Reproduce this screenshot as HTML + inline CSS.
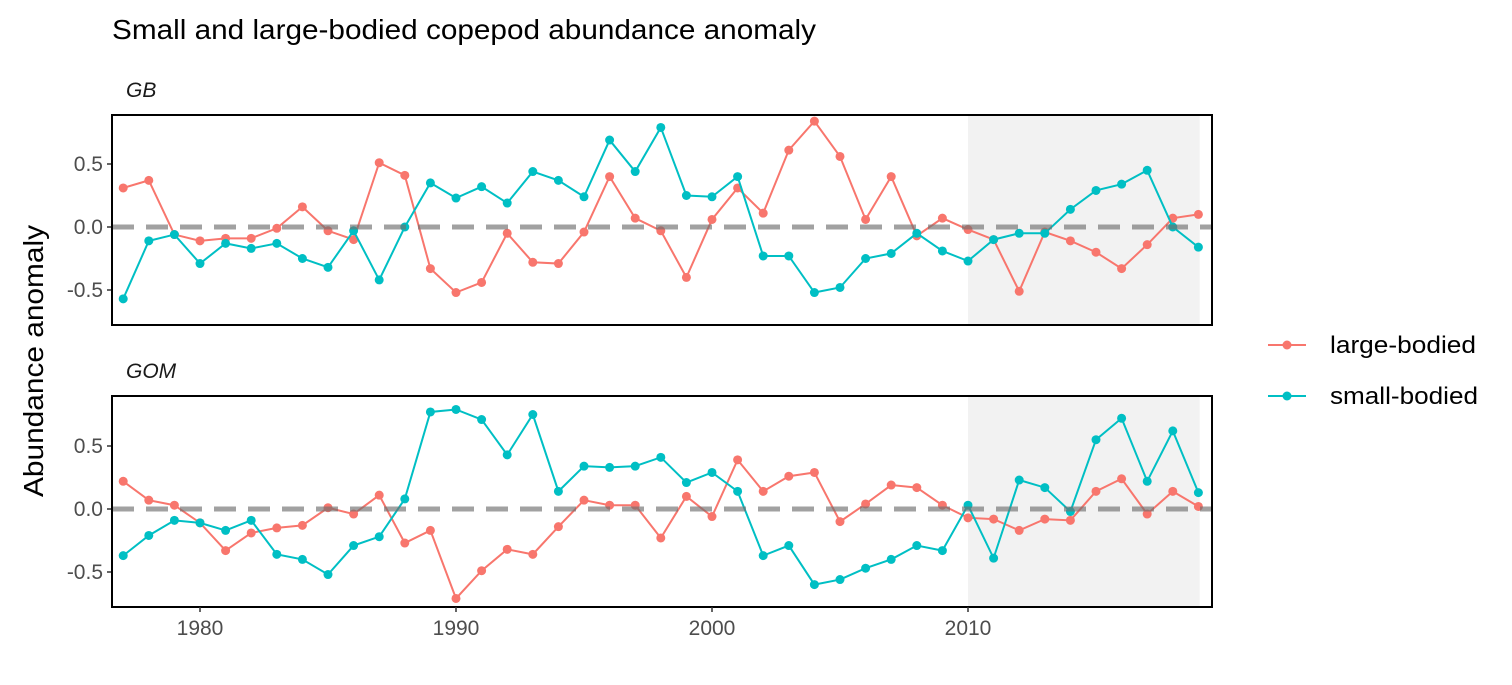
<!DOCTYPE html>
<html><head><meta charset="utf-8"><style>
body{margin:0;background:#fff;font-family:"Liberation Sans",Arial,sans-serif}
svg text{font-family:"Liberation Sans",Arial,sans-serif}
</style></head><body>
<svg id="chart" width="1512" height="680" xmlns="http://www.w3.org/2000/svg">
<text x="112" y="39" font-size="28" textLength="704" lengthAdjust="spacingAndGlyphs" fill="#000">Small and large-bodied copepod abundance anomaly</text>
<text transform="translate(43,361) rotate(-90)" text-anchor="middle" font-size="28" fill="#000" textLength="272" lengthAdjust="spacingAndGlyphs">Abundance anomaly</text>
<g>
<g><line x1="1268" y1="345" x2="1306" y2="345" stroke="#F8766D" stroke-width="2"/><circle cx="1287" cy="345" r="4.5" fill="#F8766D"/><text x="1330" y="353" font-size="24" textLength="146" lengthAdjust="spacingAndGlyphs" fill="#000">large-bodied</text></g>
<g><line x1="1268" y1="396" x2="1306" y2="396" stroke="#00BFC4" stroke-width="2"/><circle cx="1287" cy="396" r="4.5" fill="#00BFC4"/><text x="1330" y="404" font-size="24" textLength="148" lengthAdjust="spacingAndGlyphs" fill="#000">small-bodied</text></g>
</g>
<g id="panels"></g>
</svg>
<script>
const years=[];for(let y=1977;y<=2019;y++)years.push(y);
const gbLarge=[0.31,0.37,-0.06,-0.11,-0.09,-0.09,-0.01,0.16,-0.03,-0.10,0.51,0.41,-0.33,-0.52,-0.44,-0.05,-0.28,-0.29,-0.04,0.40,0.07,-0.03,-0.40,0.06,0.31,0.11,0.61,0.84,0.56,0.06,0.40,-0.07,0.07,-0.02,-0.10,-0.51,-0.04,-0.11,-0.20,-0.33,-0.14,0.07,0.10];
const gbSmall=[-0.57,-0.11,-0.06,-0.29,-0.13,-0.17,-0.13,-0.25,-0.32,-0.03,-0.42,0.0,0.35,0.23,0.32,0.19,0.44,0.37,0.24,0.69,0.44,0.79,0.25,0.24,0.40,-0.23,-0.23,-0.52,-0.48,-0.25,-0.21,-0.05,-0.19,-0.27,-0.10,-0.05,-0.05,0.14,0.29,0.34,0.45,0.0,-0.16];
const gomLarge=[0.22,0.07,0.03,-0.11,-0.33,-0.19,-0.15,-0.13,0.01,-0.04,0.11,-0.27,-0.17,-0.71,-0.49,-0.32,-0.36,-0.14,0.07,0.03,0.03,-0.23,0.10,-0.06,0.39,0.14,0.26,0.29,-0.10,0.04,0.19,0.17,0.03,-0.07,-0.08,-0.17,-0.08,-0.09,0.14,0.24,-0.04,0.14,0.02];
const gomSmall=[-0.37,-0.21,-0.09,-0.11,-0.17,-0.09,-0.36,-0.40,-0.52,-0.29,-0.22,0.08,0.77,0.79,0.71,0.43,0.75,0.14,0.34,0.33,0.34,0.41,0.21,0.29,0.14,-0.37,-0.29,-0.60,-0.56,-0.47,-0.40,-0.29,-0.33,0.03,-0.39,0.23,0.17,-0.02,0.55,0.72,0.22,0.62,0.13];
const yTicks=[-0.5,0.0,0.5];const yTickLabels=["-0.5","0.0","0.5"];
const xTicks=[1980,1990,2000,2010];
const shadeStart=2010,shadeEnd=2019.05;
const NS="http://www.w3.org/2000/svg";
const X0=112,X1=1212;
const xs=y=>200+(y-1980)*25.6;
function mk(t,a,p){const e=document.createElementNS(NS,t);for(const k in a)e.setAttribute(k,a[k]);p.appendChild(e);return e;}
const root=document.getElementById('panels');
const panels=[{name:"GB",top:115,bot:325,zero:227,L:gbLarge,S:gbSmall},{name:"GOM",top:396,bot:607,zero:509,L:gomLarge,S:gomSmall}];
panels.forEach((p,pi)=>{
 const ys=v=>p.zero-v*126;
 const g=mk('g',{},root);
 
 
 const t=mk('text',{x:126,y:p.top-18,'font-size':21,'font-style':'italic',fill:'#1a1a1a'},g);t.textContent=p.name;
 
 
 const sh=mk('rect',{x:xs(shadeStart),y:p.top,width:xs(shadeEnd)-xs(shadeStart),height:p.bot-p.top,fill:'#f2f2f2'},g);
 
 
 yTicks.forEach((v,i)=>{
  mk('line',{x1:X0-5,x2:X0,y1:ys(v),y2:ys(v),stroke:'#333','stroke-width':1.5},g);
  const tl=mk('text',{x:X0-9,y:ys(v)+7,'text-anchor':'end','font-size':21,fill:'#4d4d4d'},g);tl.textContent=yTickLabels[i];
  
  
 });
 [[p.L,'#F8766D','large'],[p.S,'#00BFC4','small']].forEach(([arr,c,n])=>{
  const s=mk('g',{},g);
  
  
  mk('polyline',{points:arr.map((v,i)=>xs(years[i])+','+ys(v)).join(' '),fill:'none',stroke:c,'stroke-width':2},s);
  arr.forEach((v,i)=>{const pt=mk('circle',{cx:xs(years[i]),cy:ys(v),r:4.5,fill:c},s);
   
   });
 });
 const zl=mk('line',{x1:X0,x2:X1,y1:ys(0),y2:ys(0),stroke:'#6e6e6e','stroke-opacity':0.65,'stroke-width':5,'stroke-dasharray':'22,12'},g);
 
 
 const fr=mk('rect',{x:X0,y:p.top,width:X1-X0,height:p.bot-p.top,fill:'none',stroke:'#000','stroke-width':2},g);
 
 
 if(pi===1){xTicks.forEach(v=>{
  mk('line',{x1:xs(v),x2:xs(v),y1:p.bot,y2:p.bot+5,stroke:'#333','stroke-width':1.5},g);
  const tl=mk('text',{x:xs(v),y:p.bot+28,'text-anchor':'middle','font-size':21,fill:'#4d4d4d'},g);tl.textContent=v;
  
  
 });}
});
</script>
</body></html>
